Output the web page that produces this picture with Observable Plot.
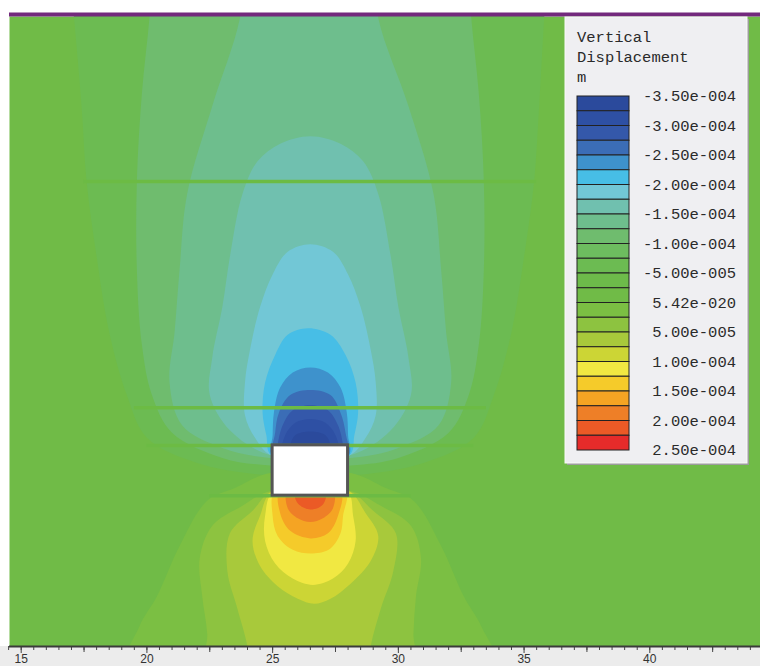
<!DOCTYPE html>
<html><head><meta charset="utf-8">
<script src="https://cdn.jsdelivr.net/npm/d3@7"></script>
<script src="https://cdn.jsdelivr.net/npm/@observablehq/plot@0.6"></script>
<style>
body{margin:0;background:#fff;}
#wrap{position:relative;width:760px;height:666px;overflow:hidden;background:linear-gradient(to bottom,#fff 0,#fff 646px,#ececec 646px);}
#legend{position:absolute;left:0;top:0;}
</style></head><body><div id="wrap"></div>
<script>
// ---- legend: 24 colour bands, labels on every second band edge ----
const bandColors = [
  "#2b4a9c","#2e50a4","#3458aa","#3b6db6","#3e92cc","#47bee6","#72c7d6","#70c0af",
  "#6ebe8d","#6fbc6e","#6dbc5f","#6cbb52","#6dbb4a","#70bb47","#7bbf43","#8dc340",
  "#a8c93b","#ccd535","#f1e842","#f5cb2a","#f5a423","#ee7f27","#eb5a26","#e52b2a"];
const legendLabels = ["-3.50e-004","-3.00e-004","-2.50e-004","-2.00e-004","-1.50e-004",
  "-1.00e-004","-5.00e-005","5.42e-020","5.00e-005","1.00e-004","1.50e-004","2.00e-004","2.50e-004"];
const legendTitle = ["Vertical", "Displacement", "m"];
const farFieldBand = 13;

// ---- x axis ticks ----
const xMajorTicks = [15, 20, 25, 30, 35, 40];
const xMediumTicks = [17.5, 22.5, 27.5, 32.5, 37.5, 42.5];
const xMinorTicks = d3.range(14.5, 44.5, 0.5);

// ---- geometry: tunnel and structural lines (m) ----
const tunnelX = [25, 28];
const tunnelY = [6, 8];
const lineY  = [18.5, 9.5, 8, 6];
const lineX1 = [17.5, 19.5, 20, 22.5];
const lineX2 = [35.5, 33.5, 33, 30.5];

// ---- contour outlines [x (m), y (m)] ----
// upper lobe (settlement, negative)
const upperBand11 = [[16.8,28],[17.1,25],[17.4,21.5],[17.6,18.5],[18.0,15.5],[18.5,12.5],[19.2,10.0],[20.0,8.3],[22.0,7.3],[24.9,6.8],
  [28.1,6.8],[31.0,7.3],[33.0,8.3],[33.8,10.0],[34.5,12.5],[35.0,15.5],[35.4,18.5],[35.6,21.5],[35.8,25],[36.0,28]];
const upperBand9 = [[20.3,28],[20.1,25],[19.8,22],[19.6,18.5],[19.6,15],[19.8,12],[20.2,10.0],[21.0,8.5],[23.0,7.5],[24.9,7.2],
  [28.1,7.2],[30.0,7.5],[32.0,8.5],[32.8,10.0],[33.2,12],[33.4,15],[33.4,18.5],[33.2,22],[32.9,25],[32.7,28]];
const upperBand8 = [[24.0,28],[23.7,25],[22.6,21.5],[21.6,18.0],[21.3,15.0],[21.1,12.5],[20.9,10.5],[21.4,8.8],[23.0,7.9],[24.9,7.5],
  [28.1,7.5],[30.0,7.9],[31.6,8.8],[32.1,10.5],[31.9,12.5],[31.7,15.0],[31.4,18.0],[30.4,21.5],[29.2,25],[28.9,28]];
const upperBand7 = [[26.5,20.3],[25.3,20.0],[24.4,19.3],[23.8,18.0],[23.3,15.5],[23.0,13.5],[22.6,11.5],[22.5,10.0],[23.3,8.6],[24.95,7.6],
  [28.05,7.6],[29.7,8.6],[30.5,10.0],[30.4,11.5],[30.0,13.5],[29.7,15.5],[29.2,18.0],[28.6,19.3],[27.7,20.0]];
const upperBand6 = [[26.5,16.0],[25.6,15.7],[25.0,14.8],[24.5,13.5],[24.1,11.8],[23.9,10.5],[23.9,9.2],[24.3,8.3],[24.95,7.6],
  [28.05,7.6],[28.7,8.3],[29.1,9.2],[29.1,10.5],[28.9,11.8],[28.5,13.5],[28.0,14.8],[27.4,15.7]];
const upperBand5 = [[26.4,12.66],[25.6,12.4],[25.1,11.6],[24.7,10.5],[24.6,9.3],[24.75,8.4],[24.95,7.6],
  [28.05,7.6],[28.25,8.4],[28.4,9.3],[28.3,10.5],[27.9,11.6],[27.3,12.4]];
const upperBand4 = [[26.5,11.1],[25.8,10.9],[25.3,10.3],[25.05,9.3],[25.0,8.4],[24.98,7.6],
  [28.02,7.6],[28.0,8.4],[27.95,9.3],[27.7,10.3],[27.2,10.9]];
const upperBand3 = [[26.5,10.2],[25.7,10.0],[25.25,9.3],[25.1,8.5],[25.05,7.6],[27.95,7.6],[27.9,8.5],[27.7,9.3],[27.3,10.0]];
const upperBand2 = [[26.5,9.6],[25.8,9.4],[25.4,8.8],[25.2,8.0],[25.2,7.6],[27.8,7.6],[27.8,8.0],[27.6,8.8],[27.2,9.4]];
const upperBand1 = [[26.5,9.05],[25.9,8.9],[25.5,8.4],[25.4,7.6],[27.6,7.6],[27.5,8.4],[27.1,8.9]];
const upperBand0 = [[26.5,8.55],[25.9,8.4],[25.7,8.0],[25.7,7.6],[27.3,7.6],[27.3,8.0],[27.1,8.4]];
// lower lobe (heave, positive)
const lowerBand14 = [[24.9,6.9],[23.5,6.3],[22.4,5.8],[21.3,4.0],[20.4,2.0],[19.7,0.8],[19.2,-1.0],
  [33.9,-1.0],[33.3,0.8],[32.6,2.0],[31.7,4.0],[30.6,5.8],[29.5,6.3],[28.1,6.9]];
const lowerBand15 = [[24.95,6.2],[23.8,5.6],[22.6,4.8],[22.1,3.5],[22.2,2.0],[22.4,0.5],[22.4,-1.0],
  [30.6,-1.0],[30.6,0.5],[30.7,2.0],[30.9,3.5],[30.5,4.8],[29.3,5.6],[28.05,6.2]];
const lowerBand16 = [[25.0,6.2],[24.2,5.4],[23.3,4.5],[23.2,3.0],[23.6,1.5],[24.0,0.0],[24.1,-1.0],
  [28.8,-1.0],[28.9,0.0],[29.3,1.5],[29.8,3.0],[29.9,4.5],[29.0,5.4],[28.0,6.2]];
const lowerBand17 = [[25.0,6.2],[24.5,5.2],[24.2,4.2],[24.5,3.2],[25.2,2.4],[26.0,1.9],[26.65,1.7],[27.3,1.9],[28.1,2.5],[28.9,3.4],[29.2,4.4],[28.7,5.3],[28.0,6.2]];
const lowerBand18 = [[25.05,6.2],[24.7,5.2],[24.7,4.2],[25.1,3.3],[25.8,2.7],[26.6,2.45],[27.4,2.7],[28.0,3.3],[28.3,4.2],[28.2,5.2],[27.95,6.2]];
const lowerBand19 = [[25.1,6.2],[25.0,5.2],[25.2,4.4],[25.8,3.85],[26.6,3.7],[27.3,3.9],[27.7,4.5],[27.8,5.2],[27.9,6.2]];
const lowerBand20 = [[25.3,6.2],[25.3,5.3],[25.7,4.6],[26.5,4.3],[27.2,4.5],[27.6,5.2],[27.7,6.2]];
const lowerBand21 = [[25.6,6.2],[25.6,5.5],[26.0,5.1],[26.5,4.95],[27.0,5.1],[27.4,5.5],[27.4,6.2]];
const lowerBand22 = [[25.9,6.2],[26.0,5.7],[26.5,5.45],[27.0,5.65],[27.1,6.2]];

const contours = [
  {band: 11, pts: upperBand11}, {band: 9, pts: upperBand9}, {band: 8, pts: upperBand8},
  {band: 7, pts: upperBand7}, {band: 6, pts: upperBand6}, {band: 5, pts: upperBand5},
  {band: 4, pts: upperBand4}, {band: 3, pts: upperBand3}, {band: 2, pts: upperBand2},
  {band: 1, pts: upperBand1}, {band: 0, pts: upperBand0},
  {band: 14, pts: lowerBand14}, {band: 15, pts: lowerBand15}, {band: 16, pts: lowerBand16},
  {band: 17, pts: lowerBand17}, {band: 18, pts: lowerBand18}, {band: 19, pts: lowerBand19},
  {band: 20, pts: lowerBand20}, {band: 21, pts: lowerBand21}, {band: 22, pts: lowerBand22}
];

const structLines = lineY.map((y, i) => ({y, x1: lineX1[i], x2: lineX2[i]}));
const yTop = 25.06;

const chart = Plot.plot({
  width: 760, height: 666,
  marginLeft: 9, marginRight: 0, marginTop: 16, marginBottom: 20,
  style: {background: "transparent", overflow: "visible"},
  x: {domain: [14.535, 44.403], label: null},
  y: {domain: [0, yTop], axis: null},
  marks: [
    Plot.frame({fill: bandColors[farFieldBand], stroke: "none"}),
    ...contours.map(c => Plot.line(c.pts, {
      x: d => d[0], y: d => d[1], fill: bandColors[c.band], stroke: "none",
      curve: "catmull-rom-closed", clip: true
    })),
    Plot.ruleY(structLines, {y: "y", x1: "x1", x2: "x2", stroke: "#6cbb44", strokeWidth: 3.5}),
    Plot.rect([{x1: tunnelX[0], x2: tunnelX[1], y1: tunnelY[0], y2: tunnelY[1]}],
      {x1: "x1", x2: "x2", y1: "y1", y2: "y2", fill: "#fff", stroke: "#555", strokeWidth: 3}),
    Plot.axisX(xMinorTicks, {tickSize: 4, tickFormat: () => "", stroke: "#444", label: null}),
    Plot.axisX(xMediumTicks, {tickSize: 6, tickFormat: () => "", stroke: "#444", label: null}),
    Plot.axisX(xMajorTicks, {tickSize: 7, tickPadding: 1, stroke: "#444", fill: "#333",
      fontSize: 12, fontFamily: "Liberation Sans, Arial, sans-serif", label: null}),
    Plot.ruleY([0], {stroke: "#3a3a3a", strokeWidth: 2}),
    Plot.ruleY([yTop], {stroke: "#73297d", strokeWidth: 4, dy: -2})
  ]
});
document.getElementById("wrap").appendChild(chart);

// ---- legend overlay (built from bandColors / legendLabels) ----
const lg = d3.select("#wrap").append("svg").attr("id", "legend")
  .attr("width", 760).attr("height", 666);
const box = {x: 565, y: 17, w: 182, h: 446};
lg.append("rect").attr("x", box.x + 2).attr("y", box.y + 2).attr("width", box.w).attr("height", box.h).attr("fill", "#9c9c9c");
lg.append("rect").attr("x", box.x).attr("y", box.y).attr("width", box.w).attr("height", box.h)
  .attr("fill", "#efeff2").attr("stroke", "#fafafa").attr("stroke-width", 1);
const mono = "'Liberation Mono', 'Courier New', monospace";
lg.selectAll("text.title").data(legendTitle).join("text")
  .attr("x", 577).attr("y", (d, i) => 41.5 + i * 20)
  .attr("font-family", mono).attr("font-size", 15.5).attr("fill", "#2a2a2a").text(d => d);
const barTop = 96, bandH = 14.75, barX = 577, barW = 52;
lg.selectAll("rect.band").data(bandColors).join("rect")
  .attr("x", barX).attr("y", (d, i) => barTop + i * bandH).attr("width", barW).attr("height", bandH)
  .attr("fill", d => d).attr("stroke", "#222").attr("stroke-width", 1);
lg.selectAll("text.lab").data(legendLabels).join("text")
  .attr("x", 736).attr("y", (d, i) => barTop + i * 2 * bandH)
  .attr("dy", "0.35em").attr("text-anchor", "end")
  .attr("font-family", mono).attr("font-size", 15.5).attr("fill", "#2a2a2a").text(d => d);
</script></body></html>
